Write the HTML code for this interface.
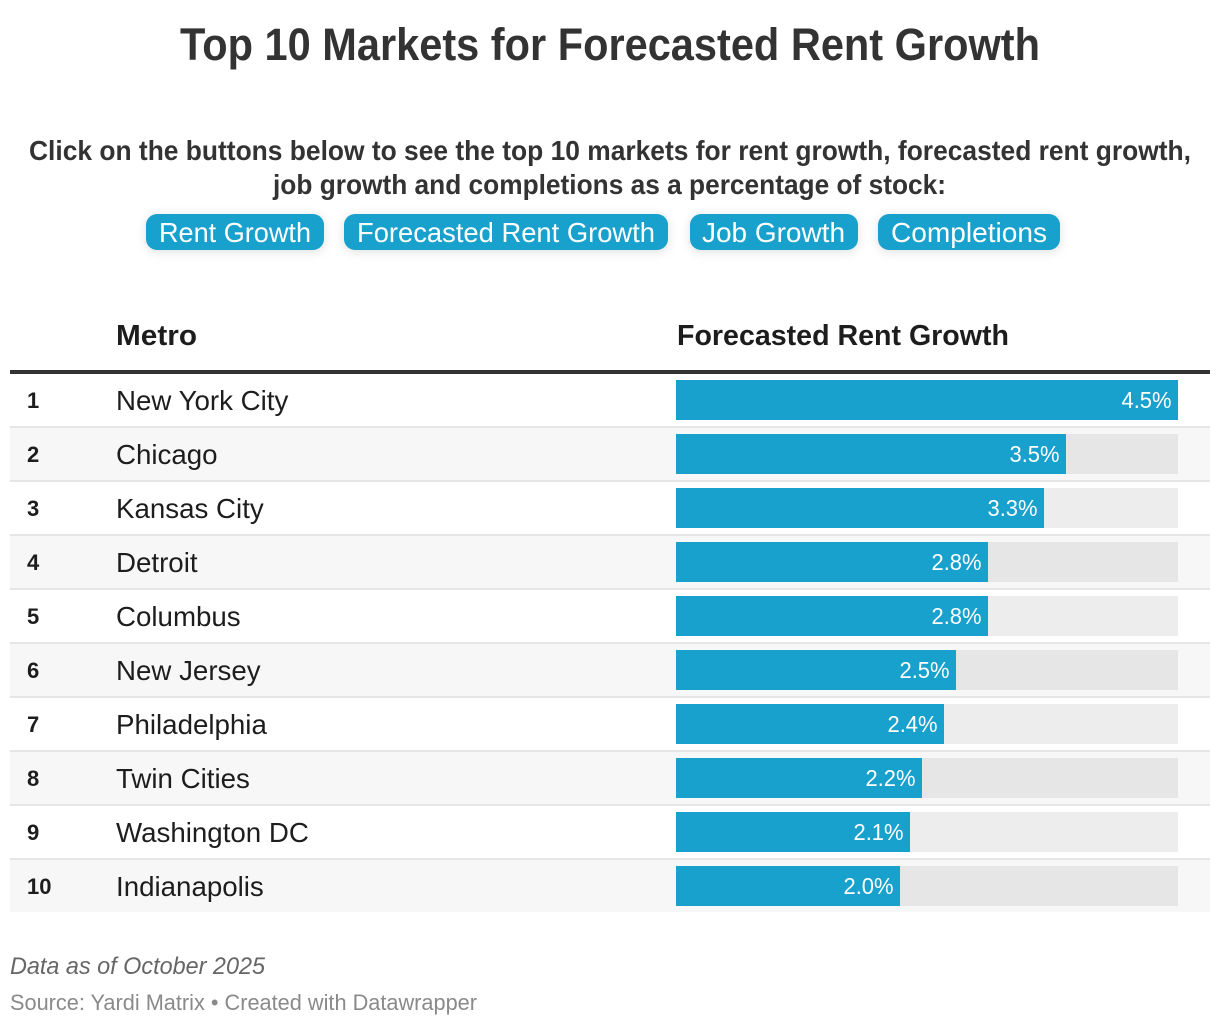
<!DOCTYPE html>
<html lang="en">
<head>
<meta charset="utf-8">
<title>Top 10 Markets for Forecasted Rent Growth</title>
<style>
  html, body { margin: 0; padding: 0; background: #fff; }
  body { width: 1220px; height: 1026px; overflow: hidden; }
  svg { display: block; }
  text { font-family: "Liberation Sans", sans-serif; }
  .button-rect { filter: drop-shadow(0 2px 5px rgba(0,0,0,0.12)); cursor: pointer; }
</style>
</head>
<body>
<svg id="chart" xmlns="http://www.w3.org/2000/svg" width="1220" height="1026" viewBox="0 0 1220 1026">
  <text x="180" y="60" font-size="45" font-weight="700" fill="#333333" textLength="860" lengthAdjust="spacingAndGlyphs">Top 10 Markets for Forecasted Rent Growth</text>
  <text x="29" y="160" font-size="28" font-weight="700" fill="#333333" textLength="1162" lengthAdjust="spacingAndGlyphs">Click on the buttons below to see the top 10 markets for rent growth, forecasted rent growth,</text>
  <text x="273" y="194" font-size="28" font-weight="700" fill="#333333" textLength="673" lengthAdjust="spacingAndGlyphs">job growth and completions as a percentage of stock:</text>

  <g>
    <rect class="button-rect" x="146" y="214" width="178" height="36" rx="11" fill="#18a1cd"/>
    <text x="159" y="242" font-size="28" fill="#ffffff" textLength="152" lengthAdjust="spacingAndGlyphs">Rent Growth</text>
  </g>
  <g>
    <rect class="button-rect" x="344" y="214" width="324" height="36" rx="11" fill="#18a1cd"/>
    <text x="357" y="242" font-size="28" fill="#ffffff" textLength="298" lengthAdjust="spacingAndGlyphs">Forecasted Rent Growth</text>
  </g>
  <g>
    <rect class="button-rect" x="690" y="214" width="168" height="36" rx="11" fill="#18a1cd"/>
    <text x="702" y="242" font-size="28" fill="#ffffff" textLength="143" lengthAdjust="spacingAndGlyphs">Job Growth</text>
  </g>
  <g>
    <rect class="button-rect" x="878" y="214" width="182" height="36" rx="11" fill="#18a1cd"/>
    <text x="891" y="242" font-size="28" fill="#ffffff" textLength="156" lengthAdjust="spacingAndGlyphs">Completions</text>
  </g>

  <text x="116" y="345" font-size="29" font-weight="700" fill="#1d1d1d" textLength="81" lengthAdjust="spacingAndGlyphs">Metro</text>
  <text x="677" y="345" font-size="29" font-weight="700" fill="#1d1d1d" textLength="332" lengthAdjust="spacingAndGlyphs">Forecasted Rent Growth</text>
  <rect x="10" y="370" width="1200" height="4" fill="#333333"/>

  <g id="rows"></g>

  <text x="10" y="974" font-size="24" font-style="italic" fill="#666666" textLength="255" lengthAdjust="spacingAndGlyphs">Data as of October 2025</text>
  <text x="10" y="1010" font-size="22" fill="#8a8a8a" textLength="467" lengthAdjust="spacingAndGlyphs">Source: Yardi Matrix • Created with Datawrapper</text>
</svg>
<script>
var metros = ["New York City", "Chicago", "Kansas City", "Detroit", "Columbus", "New Jersey", "Philadelphia", "Twin Cities", "Washington DC", "Indianapolis"];
var forecastGrowth = [4.5, 3.5, 3.3, 2.8, 2.8, 2.51, 2.4, 2.205, 2.1, 2.01];
var axisMax = 4.5;

var NS = "http://www.w3.org/2000/svg";
var rowsGroup = document.getElementById("rows");

function xScale(v) { return Math.round(502 * v / axisMax); }
function rowTop(i) { return 374 + 54 * i; }

function make(tag, attrs) {
  var el = document.createElementNS(NS, tag);
  for (var k in attrs) el.setAttribute(k, attrs[k]);
  return el;
}

metros.forEach(function (metro, i) {
  var top = rowTop(i);
  var even = i % 2 === 1;
  var last = i === metros.length - 1;

  var row = make("g", {});
  
  

  if (even) {
    var bg = make("rect", { x: 10, y: top, width: 1200, height: last ? 52 : 54, fill: "#f7f7f7" });
    
    
    row.appendChild(bg);
  }

  if (!last) {
    var sep = make("rect", { x: 10, y: top + 52, width: 1200, height: 2, fill: "#e6e6e6" });
    
    
    row.appendChild(sep);
  }

  var rank = make("text", { x: 27, y: top + 34, "font-size": 22, "font-weight": 700, fill: "#1d1d1d" });
  
  
  rank.textContent = String(i + 1);
  row.appendChild(rank);

  var name = make("text", { x: 116, y: top + 36, "font-size": 27.7, fill: "#1d1d1d" });
  
  
  name.textContent = metro;
  row.appendChild(name);

  var track = make("rect", { x: 676, y: top + 6, width: xScale(axisMax), height: 40, fill: even ? "#e6e6e6" : "#ededed" });
  
  
  row.appendChild(track);

  var barWidth = xScale(forecastGrowth[i]);
  var bar = make("rect", { x: 676, y: top + 6, width: barWidth, height: 40, fill: "#18a1cd" });
  
  
  row.appendChild(bar);

  var value = make("text", { x: 676 + barWidth - 6.5, y: top + 34, "font-size": 23, fill: "#ffffff", "text-anchor": "end", textLength: 50, lengthAdjust: "spacingAndGlyphs" });
  
  
  value.textContent = forecastGrowth[i].toFixed(1) + "%";
  row.appendChild(value);

  rowsGroup.appendChild(row);
});
</script>
</body>
</html>
